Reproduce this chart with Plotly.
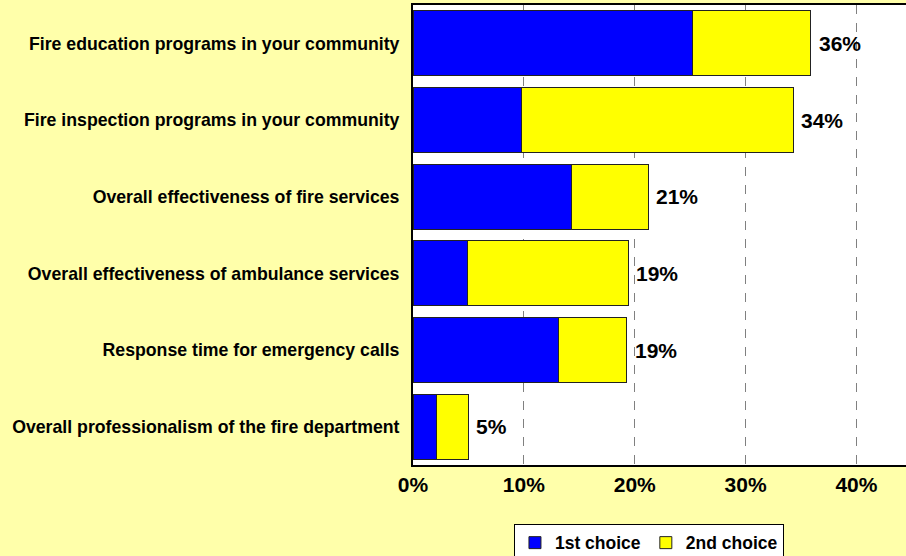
import plotly.graph_objects as go

categories = [
    "Fire education programs in your community",
    "Fire inspection programs in your community",
    "Overall effectiveness of fire services",
    "Overall effectiveness of ambulance services",
    "Response time for emergency calls",
    "Overall professionalism of the fire department",
]
first_choice = [25.2, 9.8, 14.3, 4.9, 13.1, 2.1]
second_choice = [10.7, 24.5, 6.9, 14.5, 6.2, 2.9]
total_labels = ["36%", "34%", "21%", "19%", "19%", "5%"]
x_ticks = [0, 10, 20, 30, 40]
x_tick_labels = ["0%", "10%", "20%", "30%", "40%"]

FONT = "Liberation Sans, Arial, sans-serif"

fig = go.Figure()
fig.add_trace(go.Bar(
    y=categories, x=first_choice, orientation="h", name="<b>1st choice</b>",
    marker=dict(color="#0000FF", line=dict(color="#222222", width=1)),
))
fig.add_trace(go.Bar(
    y=categories, x=second_choice, orientation="h", name="<b>2nd choice</b>",
    marker=dict(color="#FFFF00", line=dict(color="#222222", width=1)),
))

for c, a, b, t in zip(categories, first_choice, second_choice, total_labels):
    fig.add_annotation(
        x=a + b, y=c, text="<b>%s</b>" % t, showarrow=False,
        xanchor="left", yanchor="middle", xshift=6,
        font=dict(family=FONT, size=21, color="black"),
    )

fig.update_layout(
    width=906, height=556,
    margin=dict(l=413, r=0, t=5, b=91, autoexpand=False),
    paper_bgcolor="#FFFFAA",
    plot_bgcolor="white",
    barmode="stack",
    bargap=0.15,
    showlegend=True,
    legend=dict(
        orientation="h", xref="container", yref="container",
        x=0.7163, xanchor="center", y=0.058, yanchor="top",
        bgcolor="white", bordercolor="black", borderwidth=1,
        font=dict(family=FONT, size=17.5, color="black"),
        traceorder="normal", itemwidth=30, tracegroupgap=0,
    ),
    font=dict(family=FONT, color="black"),
)
fig.update_xaxes(
    range=[0, 44.47], tickvals=x_ticks, ticktext=["<b>%s</b>" % s for s in x_tick_labels],
    tickfont=dict(family=FONT, size=21, color="black"),
    showgrid=True, gridcolor="#808080", griddash="dash", gridwidth=1,
    showline=True, linecolor="black", linewidth=2, mirror=True,
    zeroline=False, ticks="", fixedrange=True,
)
fig.update_yaxes(
    categoryorder="array", categoryarray=categories[::-1],
    tickvals=categories, ticktext=["<b>%s</b>" % c for c in categories],
    tickfont=dict(family=FONT, size=17.7, color="black"),
    showline=True, linecolor="black", linewidth=2, mirror=False,
    showgrid=False, ticks="", ticklabelstandoff=8,
)

fig.write_html(
    "out.html",
    config={"displayModeBar": False},
    post_script="document.body.style.margin='0';document.body.style.overflow='hidden';",
)
